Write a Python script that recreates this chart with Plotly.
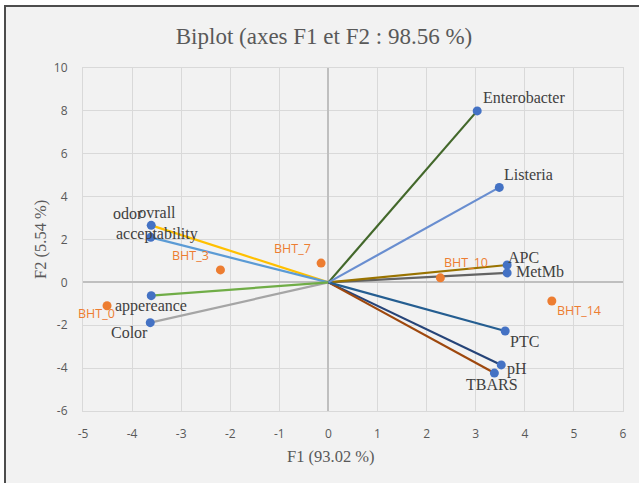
import plotly.graph_objects as go

# Variable loadings on F1 / F2
var_names = ["Color", "odor", "ovrall<br>acceptability", "appereance", "pH", "TBARS",
             "MetMb", "APC", "PTC", "Enterobacter", "Listeria"]
var_f1 = [-3.63, -3.61, -3.62, -3.61, 3.52, 3.38, 3.64, 3.64, 3.60, 3.03, 3.48]
var_f2 = [-1.88, 2.66, 2.10, -0.62, -3.85, -4.23, 0.44, 0.81, -2.27, 8.00, 4.43]
var_colors = ["#A5A5A5", "#FFC000", "#5B9BD5", "#70AD47", "#264478", "#9E480E",
              "#636363", "#997300", "#255E91", "#43682B", "#698ED0"]
# label placement: (xanchor, yanchor, xshift, yshift)
var_label_pos = [("right", "middle", 0, -10), ("right", "middle", -6, 12),
                 ("center", "middle", 6, 14), ("center", "middle", 0, -10),
                 ("left", "middle", 4, -4), ("center", "middle", -2, -11),
                 ("left", "middle", 7, 1), ("left", "middle", -1, 8),
                 ("left", "middle", 3, -10), ("left", "middle", 4, 13),
                 ("left", "middle", 3, 13)]

# Observation scores
obs_names = ["BHT_0", "BHT_3", "BHT_7", "BHT_10", "BHT_14"]
obs_f1 = [-4.51, -2.20, -0.15, 2.28, 4.55]
obs_f2 = [-1.09, 0.58, 0.90, 0.21, -0.87]
obs_label_pos = [(-11, -8), (-30, 14), (-29, 15), (26, 15), (27, -9)]

x_ticks = list(range(-5, 7))
y_ticks = list(range(-6, 11, 2))
x_ticktext = [str(v) for v in x_ticks]
y_ticktext = [str(v) for v in y_ticks]

W, H = 639, 483
ML, MR, MT, MB = 83, 16, 68, 72
PW, PH = W - ML - MR, H - MT - MB


def px_x(p):
    return (p - ML) / PW


def px_y(p):
    return 1 - (p - MT) / PH


fig = go.Figure()

for name, x, y, c in zip(var_names, var_f1, var_f2, var_colors):
    fig.add_trace(go.Scatter(x=[0, x], y=[0, y], mode="lines",
                             line=dict(color=c, width=2.2),
                             hoverinfo="skip", showlegend=False))

fig.add_trace(go.Scatter(x=var_f1, y=var_f2, mode="markers",
                         marker=dict(color="#4472C4", size=9),
                         text=var_names, showlegend=False))
fig.add_trace(go.Scatter(x=obs_f1, y=obs_f2, mode="markers",
                         marker=dict(color="#ED7D31", size=9),
                         text=obs_names, showlegend=False))

annotations = []
for name, x, y, (xa, ya, dx, dy) in zip(var_names, var_f1, var_f2, var_label_pos):
    annotations.append(dict(x=x, y=y, xref="x", yref="y", text=name,
                            showarrow=False, xanchor=xa, yanchor=ya,
                            xshift=dx, yshift=dy,
                            font=dict(family="Liberation Serif", size=16, color="#404040")))
for name, x, y, (dx, dy) in zip(obs_names, obs_f1, obs_f2, obs_label_pos):
    annotations.append(dict(x=x, y=y, xref="x", yref="y", text=name,
                            showarrow=False, xanchor="center", yanchor="middle",
                            xshift=dx, yshift=dy,
                            font=dict(family="Open Sans", size=12.5, color="#ED7D31")))

# axis titles
annotations.append(dict(x=px_x(331), y=px_y(456), xref="paper", yref="paper",
                        text="F1 (93.02 %)", showarrow=False,
                        xanchor="center", yanchor="middle",
                        font=dict(family="Liberation Serif", size=16.5, color="#595959")))
annotations.append(dict(x=px_x(40), y=px_y(240), xref="paper", yref="paper",
                        text="F2 (5.54 %)", showarrow=False, textangle=-90,
                        xanchor="center", yanchor="middle",
                        font=dict(family="Liberation Serif", size=16.5, color="#595959")))

shapes = [
    # framed background
    dict(type="rect", xref="paper", yref="paper",
         x0=px_x(5), x1=px_x(700), y0=px_y(6), y1=px_y(560),
         fillcolor="#F2F2F2", line=dict(color="#4D4D4D", width=2), layer="below"),
]

fig.update_layout(
    width=W, height=H,
    margin=dict(l=ML, r=MR, t=MT, b=MB),
    paper_bgcolor="white",
    plot_bgcolor="#F2F2F2",
    showlegend=False,
    title=dict(text="Biplot (axes F1 et F2 : 98.56 %)",
               xref="container", x=324 / W, xanchor="center",
               yref="container", y=1 - 36 / H, yanchor="middle",
               font=dict(family="Liberation Serif", size=23, color="#595959")),
    annotations=annotations,
    shapes=shapes,
)

fig.update_xaxes(range=[-5, 6], tickvals=x_ticks, ticktext=x_ticktext, showgrid=True,
                 gridcolor="#D9D9D9", gridwidth=1,
                 zeroline=True, zerolinecolor="#BFBFBF", zerolinewidth=1.5,
                 showline=True, linecolor="#D9D9D9", mirror=True,
                 ticks="", ticklabelstandoff=12,
                 tickfont=dict(family="Open Sans", size=12, color="#595959"))
fig.update_yaxes(range=[-6, 10], tickvals=y_ticks, ticktext=y_ticktext, showgrid=True,
                 gridcolor="#D9D9D9", gridwidth=1,
                 zeroline=True, zerolinecolor="#BFBFBF", zerolinewidth=1.5,
                 showline=True, linecolor="#D9D9D9", mirror=True,
                 ticks="", ticklabelstandoff=12,
                 tickfont=dict(family="Open Sans", size=12, color="#595959"))

fig.write_html("out.html")
